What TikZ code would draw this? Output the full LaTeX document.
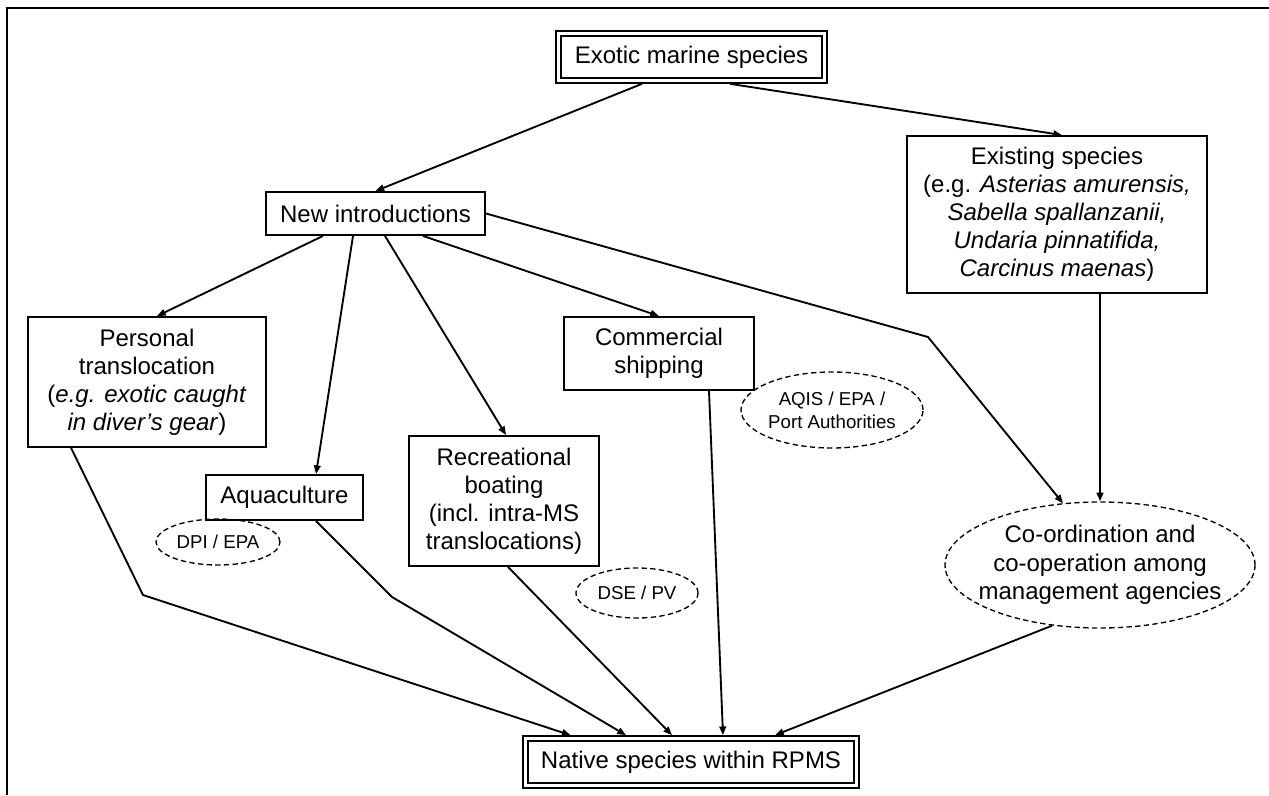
\documentclass[tikz,border=0pt]{standalone}
\usepackage{fontspec}
\setmainfont{Liberation Sans}
\usetikzlibrary{arrows.meta,calc,shapes.geometric}
\begin{document}
\begin{tikzpicture}[x=0.75pt,y=-0.75pt,
  box/.style={draw, line width=1.4pt, inner sep=0pt, align=center,
    font=\fontsize{18}{21}\selectfont},
  dbox/.style={draw, line width=1.1pt, double, double distance=2.8pt,
    inner sep=0pt, align=center, font=\fontsize{18}{21}\selectfont},
  agency/.style={ellipse, draw, line width=1pt, dash pattern=on 4pt off 2.5pt,
    inner ysep=0pt, inner xsep=-2pt, align=center,
    font=\fontsize{14}{17}\selectfont},
  arr/.style={line width=1.4pt, -{Triangle[length=6.5pt,width=5pt]}}]
\useasboundingbox (0,0) rectangle (1269,795);

% outer frame (top and left edges only)
\draw[line width=1.6pt] (1269,8) -- (7,8) -- (7,795);

% boxes
\node[dbox, minimum width=199.5pt, minimum height=35.25pt] (exotic) at (691.5,57)
  {Exotic marine species};
\node[box, minimum width=225pt, minimum height=117.75pt] (existing) at (1057,214.5)
  {Existing species\\(e.g. \textit{Asterias amurensis,}\\\textit{Sabella spallanzanii,}\\\textit{Undaria pinnatifida,}\\\textit{Carcinus maenas})};
\node[box, minimum width=164.25pt, minimum height=32.25pt] (newintro) at (375.5,213.5)
  {New introductions};
\node[box, minimum width=178.5pt, minimum height=97.5pt] (personal) at (147,382)
  {Personal\\translocation\\(\textit{e.g. exotic caught}\\\textit{in diver's gear})};
\node[box, minimum width=142.5pt, minimum height=54.75pt] (commercial) at (659,353.5)
  {Commercial\\shipping};
\node[box, minimum width=117.75pt, minimum height=33.75pt] (aqua) at (284.5,497.5)
  {Aquaculture};
\node[box, minimum width=142.5pt, minimum height=97.5pt] (rec) at (504,501)
  {Recreational\\boating\\(incl. intra-MS\\translocations)};
\node[dbox, minimum width=248.25pt, minimum height=35.25pt] (native) at (691,762)
  {Native species within RPMS};

% management agencies
\node[agency, minimum width=136.5pt, minimum height=57pt, inner xsep=-4pt] (aqis) at (832,410)
  {AQIS / EPA /\\Port Authorities};
\node[agency, minimum width=93pt, minimum height=34.5pt] (dpi) at (218,542)
  {DPI / EPA};
\node[agency, minimum width=91.5pt, minimum height=37.5pt] (dse) at (637,593)
  {DSE / PV};
\node[agency, font=\fontsize{18}{21.4}\selectfont, inner xsep=-10pt,
  minimum width=232.5pt, minimum height=94.5pt] (coord) at (1100,565)
  {Co-ordination and\\co-operation among\\management agencies};

% bend points
\coordinate (bendA) at (928,337);
\coordinate (bendP) at (143,595);
\coordinate (bendQ) at (392,597);

% connectors
\draw[arr] ($(exotic.south)+(-49.5,2.6)$) -- (newintro.north);
\draw[arr] ($(exotic.south)+(38.5,2.6)$) -- ($(existing.north)+(5,0)$);
\draw[arr] ($(newintro.south)+(-52.5,0)$) -- ($(personal.north)+(10,0)$);
\draw[arr] ($(newintro.south)+(-22.5,0)$) -- ($(aqua.north)+(31.5,0)$);
\draw[arr] ($(newintro.south)+(9.5,0)$) -- ($(rec.north)+(2,0)$);
\draw[arr] ($(newintro.south)+(47.5,0)$) -- (commercial.north);
\draw[arr] (newintro.east) -- (bendA) -- ($(coord.north)+(-37,2)$);
\draw[arr] ($(existing.south)+(43,0)$) -- (coord.north);
\draw[arr] ($(personal.south west)+(44,0)$) -- (bendP) -- ($(native.north)+(-120.5,-2.6)$);
\draw[arr] ($(aqua.south)+(31.5,0)$) -- (bendQ) -- ($(native.north)+(-65,-2.6)$);
\draw[arr] ($(rec.south)+(4,0)$) -- ($(native.north)+(-19,-2.6)$);
\draw[arr] ($(commercial.south)+(50,0)$) -- ($(native.north)+(32,-2.6)$);
\draw[arr] ($(coord.south)+(-48,-3)$) -- ($(native.north)+(84,-2.6)$);
\end{tikzpicture}
\end{document}
